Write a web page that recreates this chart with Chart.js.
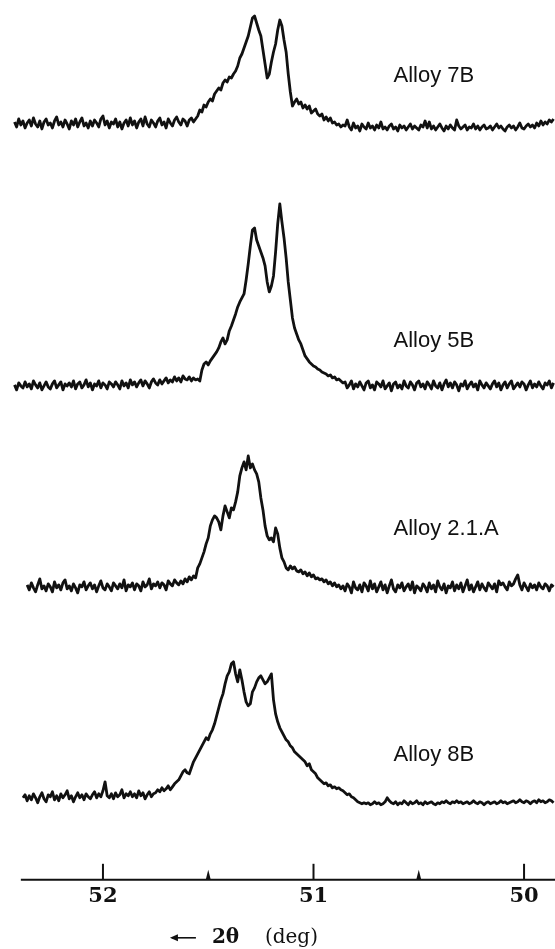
<!doctype html>
<html lang="en">
<head>
<meta charset="utf-8">
<title>Diffraction profiles, alloys 7B, 5B, 2.1.A, 8B</title>
<script src="https://cdn.jsdelivr.net/npm/chart.js"></script>
<style>
  html, body { margin: 0; padding: 0; background: #fff; }
  #wrap { position: relative; width: 555px; height: 949px; }
</style>
</head>
<body>
<div id="wrap"><canvas id="chart"></canvas></div>
<script>
// 2-theta scan positions (deg), shared by every trace
const twoTheta = [
  52.45,52.44,52.43,52.42,52.41,52.40,52.39,52.38,52.37,52.36,
  52.35,52.34,52.33,52.32,52.31,52.30,52.29,52.28,52.27,52.26,
  52.25,52.24,52.23,52.22,52.21,52.20,52.19,52.18,52.17,52.16,
  52.15,52.14,52.13,52.12,52.11,52.10,52.09,52.08,52.07,52.06,
  52.05,52.04,52.03,52.02,52.01,52.00,51.99,51.98,51.97,51.96,
  51.95,51.94,51.93,51.92,51.91,51.90,51.89,51.88,51.87,51.86,
  51.85,51.84,51.83,51.82,51.81,51.80,51.79,51.78,51.77,51.76,
  51.75,51.74,51.73,51.72,51.71,51.70,51.69,51.68,51.67,51.66,
  51.65,51.64,51.63,51.62,51.61,51.60,51.59,51.58,51.57,51.56,
  51.55,51.54,51.53,51.52,51.51,51.50,51.49,51.48,51.47,51.46,
  51.45,51.44,51.43,51.42,51.41,51.40,51.39,51.38,51.37,51.36,
  51.35,51.34,51.33,51.32,51.31,51.30,51.29,51.28,51.27,51.26,
  51.25,51.24,51.23,51.22,51.21,51.20,51.19,51.18,51.17,51.16,
  51.15,51.14,51.13,51.12,51.11,51.10,51.09,51.08,51.07,51.06,
  51.05,51.04,51.03,51.02,51.01,51.00,50.99,50.98,50.97,50.96,
  50.95,50.94,50.93,50.92,50.91,50.90,50.89,50.88,50.87,50.86,
  50.85,50.84,50.83,50.82,50.81,50.80,50.79,50.78,50.77,50.76,
  50.75,50.74,50.73,50.72,50.71,50.70,50.69,50.68,50.67,50.66,
  50.65,50.64,50.63,50.62,50.61,50.60,50.59,50.58,50.57,50.56,
  50.55,50.54,50.53,50.52,50.51,50.50,50.49,50.48,50.47,50.46,
  50.45,50.44,50.43,50.42,50.41,50.40,50.39,50.38,50.37,50.36,
  50.35,50.34,50.33,50.32,50.31,50.30,50.29,50.28,50.27,50.26,
  50.25,50.24,50.23,50.22,50.21,50.20,50.19,50.18,50.17,50.16,
  50.15,50.14,50.13,50.12,50.11,50.10,50.09,50.08,50.07,50.06,
  50.05,50.04,50.03,50.02,50.01,50.00,49.99,49.98,49.97,49.96,
  49.95,49.94,49.93,49.92,49.91,49.90,49.89,49.88,49.87,49.86
];

// intensities above each trace's own background (arb. units)
const alloy7B = [
  null,null,null,2,-3,5,-1,3,-4,1,
  4,-2,6,0,-3,3,-5,2,5,-1,
  1,-4,3,7,-1,2,-3,4,0,-5,
  3,-1,5,-3,2,6,-2,1,-4,3,
  -2,4,1,-3,5,8,-1,3,-4,2,
  0,5,-3,2,-5,1,4,-2,6,-1,
  3,-4,2,5,-2,7,0,-3,4,1,
  -3,3,6,-1,2,-4,5,1,-2,4,
  7,2,-1,5,3,-2,4,6,2,5,
  8,14,12,19,17,22,25,23,30,33,
  36,34,41,44,42,47,46,50,53,58,
  66,70,76,82,88,97,106,108,101,94,
  88,74,60,46,50,62,72,80,94,104,
  98,84,72,50,32,18,22,25,20,22,
  16,19,15,18,11,13,15,10,8,10,
  4,7,3,6,1,2,-1,0,-3,-1,
  -2,4,-3,-6,1,-4,-2,-7,0,-3,
  -5,1,-4,-2,-6,-1,-4,2,-5,-3,
  -6,-2,0,-5,-3,-7,-1,-4,-2,-6,
  -3,0,-5,-2,-4,-6,-1,-3,3,-4,
  2,-5,-2,-6,-3,0,-4,-7,-2,-5,
  -1,-4,-6,4,-2,-5,-3,-1,-6,-3,
  -4,0,-5,-2,-6,-3,-1,-5,-4,-2,
  -6,-3,0,-4,-2,-5,-7,-3,-1,-4,
  -2,-6,-3,1,-4,-5,-2,0,-3,-1,
  -4,1,-2,3,-1,2,0,4,2,5
];
const alloy5B = [
  null,null,null,1,-4,3,0,-2,4,-1,
  2,-3,5,1,-2,3,-4,0,4,-1,
  -3,2,5,-2,1,4,-4,2,0,3,
  -1,5,-3,2,4,-2,1,6,-1,3,
  -4,2,0,5,-2,3,1,-3,4,2,
  -1,4,1,-3,5,0,3,-2,6,1,
  4,-1,3,6,0,5,2,-2,4,7,
  3,1,6,2,5,8,3,6,4,9,
  5,8,4,10,7,6,9,5,8,6,
  7,5,16,22,24,21,25,28,31,34,
  38,44,48,42,46,55,60,66,72,79,
  84,88,92,106,122,140,156,158,146,140,
  134,128,120,104,94,100,110,134,162,182,
  164,148,128,104,86,68,58,52,46,42,
  36,30,27,24,22,20,19,17,16,14,
  13,12,10,11,8,9,6,7,5,3,
  4,-2,1,5,-3,2,-1,4,0,-4,
  3,5,-2,1,-4,4,2,-1,5,-3,
  0,3,-5,2,4,-2,1,-3,5,0,
  -2,4,1,-4,3,5,-1,2,-3,4,
  1,-3,5,0,-2,3,-4,2,6,-1,
  3,-2,4,1,-5,2,0,5,-3,1,
  4,-1,2,-4,5,1,-2,3,0,-3,
  2,5,-1,3,-4,1,4,-2,2,5,
  -3,0,3,-1,4,2,-4,1,5,-2,
  2,-1,4,0,-3,3,1,5,-2,3
];
const alloy21A = [
  null,null,null,null,null,null,null,null,null,3,
  -2,5,0,-4,3,9,-1,2,-3,4,
  1,-4,6,0,3,-2,5,8,-1,2,
  -3,4,0,-5,3,1,6,-2,2,5,
  -1,3,-4,2,7,0,-2,4,1,-3,
  5,2,-1,4,0,8,-3,3,1,5,
  -2,4,2,-3,6,1,3,9,-1,4,
  2,6,0,5,3,-2,7,4,2,8,
  5,3,7,4,9,6,11,8,12,10,
  20,24,30,36,44,50,62,68,72,70,
  66,58,72,82,76,70,80,78,86,96,
  112,120,126,118,132,120,124,118,114,106,
  90,78,62,52,48,50,46,60,54,40,
  30,26,20,18,22,19,21,17,16,18,
  14,16,12,15,11,13,9,10,8,9,
  6,8,4,6,2,5,1,3,-1,2,
  -3,4,1,-5,6,0,-2,3,-4,5,
  2,-3,7,-1,4,-4,1,6,-2,3,
  -5,2,8,-1,-4,3,0,5,-3,1,
  4,-2,6,-5,2,0,-3,4,1,-4,
  5,-1,3,-4,7,1,-2,4,-5,2,
  0,6,-3,3,-1,5,-4,2,8,-2,
  3,-4,1,6,-2,4,0,-3,5,2,
  -1,4,-4,7,3,5,1,-2,6,2,
  4,9,13,3,-2,5,1,-3,4,0,
  3,-2,5,1,-1,4,2,-3,3,1
];
const alloy8B = [
  null,null,null,null,null,null,null,2,5,-1,
  4,0,6,2,-3,3,7,1,-2,5,
  3,8,0,4,-1,6,2,5,9,1,
  4,-2,3,7,2,5,0,6,3,1,
  5,8,2,6,3,9,18,4,2,6,
  1,7,3,5,10,2,6,4,8,3,
  6,2,9,4,7,1,5,8,3,6,
  7,10,8,12,9,11,14,10,13,16,
  18,20,24,28,30,27,26,32,38,42,
  46,50,54,58,62,60,66,70,76,84,
  92,100,106,116,124,128,136,138,126,118,
  130,120,108,98,94,96,108,112,118,122,
  124,120,116,118,122,126,100,86,78,72,
  68,64,60,58,54,52,48,46,44,42,
  40,38,34,36,30,28,26,22,20,18,
  16,17,14,15,12,13,11,12,10,9,
  7,5,6,3,2,0,-2,-3,-4,-3,
  -4,-3,-5,-4,-2,-4,-3,-5,-4,-2,
  2,-1,-3,-4,-2,-5,-3,-4,-1,-3,
  -5,-2,-4,-3,-1,-4,-3,-5,-2,-4,
  -3,-2,-4,-5,-3,-4,-2,-3,-1,-3,
  -4,-2,-3,-1,-3,-2,-4,-3,-2,-4,
  -3,-1,-3,-4,-2,-3,-5,-3,-2,-4,
  -3,-2,-4,-3,-1,-3,-2,-4,-3,-2,
  -1,-3,-2,0,-2,-3,-1,-2,-4,-2,
  -1,-3,0,-2,-1,-3,-2,0,-1,-3
];

const alloyNames = ['Alloy 7B', 'Alloy 5B', 'Alloy 2.1.A', 'Alloy 8B'];
const alloyScans = [alloy7B, alloy5B, alloy21A, alloy8B];
// each trace is lifted by its own offset so the four scans stack
const offsets = [756, 494, 292, 80];

const tickValues = [52, 51, 50];
const minorTickValues = [51.5, 50.5];

// where the name of each trace sits (2-theta, stacked intensity)
const nameAt = 50.62;
const nameLevels = [804, 539, 351, 125];

const datasets = alloyScans.map((scan, k) => ({
  label: alloyNames[k],
  data: twoTheta.map((t, i) => ({ x: t, y: scan[i] == null ? null : scan[i] + offsets[k] })),
  borderColor: '#111',
  borderWidth: 2.8,
  borderJoinStyle: 'round',
  pointRadius: 0,
  tension: 0,
  spanGaps: false
}));

// axis line with upward ticks, trace names and the axis caption
const decorations = {
  id: 'decorations',
  afterDraw(chart) {
    const { ctx, chartArea, scales: { x, y } } = chart;
    const base = chartArea.bottom;
    ctx.save();
    ctx.strokeStyle = '#111';
    ctx.fillStyle = '#111';
    ctx.lineWidth = 2;
    ctx.beginPath();
    ctx.moveTo(x.getPixelForValue(52.39), base);
    ctx.lineTo(chartArea.right, base);
    ctx.stroke();

    tickValues.forEach(v => {
      const px = x.getPixelForValue(v);
      ctx.beginPath();
      ctx.moveTo(px, base);
      ctx.lineTo(px, base - 16);
      ctx.stroke();
    });
    minorTickValues.forEach(v => {
      const px = x.getPixelForValue(v);
      ctx.beginPath();
      ctx.moveTo(px - 2.5, base);
      ctx.lineTo(px, base - 10);
      ctx.lineTo(px + 2.5, base);
      ctx.closePath();
      ctx.fill();
    });

    ctx.font = '22px "Liberation Sans", Arial, sans-serif';
    ctx.textAlign = 'left';
    ctx.textBaseline = 'middle';
    alloyNames.forEach((name, k) => {
      ctx.fillText(name, x.getPixelForValue(nameAt), y.getPixelForValue(nameLevels[k]));
    });

    // caption: long arrow, then 2θ (deg)
    const cx = x.getPixelForValue(51.682);
    const cy = base + 58;
    ctx.lineWidth = 1.6;
    ctx.beginPath();
    ctx.moveTo(cx + 2, cy);
    ctx.lineTo(cx + 26, cy);
    ctx.stroke();
    ctx.beginPath();
    ctx.moveTo(cx, cy);
    ctx.lineTo(cx + 8, cy - 3.5);
    ctx.lineTo(cx + 8, cy + 3.5);
    ctx.closePath();
    ctx.fill();
    ctx.font = 'bold 20px "DejaVu Serif", serif';
    ctx.fillText('2\u03b8', cx + 42, cy);
    ctx.font = '20px "DejaVu Serif", serif';
    ctx.fillText('(deg)', cx + 95, cy);
    ctx.restore();
  }
};

new Chart(document.getElementById('chart'), {
  type: 'line',
  data: { datasets },
  options: {
    responsive: true,
    maintainAspectRatio: false,
    animation: false,
    layout: { padding: { top: 0, left: 0, right: 0, bottom: 36 } },
    plugins: { legend: { display: false }, tooltip: { enabled: false } },
    scales: {
      x: {
        type: 'linear',
        reverse: true,
        min: 49.853,
        max: 52.489,
        afterBuildTicks: s => { s.ticks = tickValues.map(v => ({ value: v })); },
        grid: { display: false, drawTicks: false },
        border: { display: false },
        ticks: {
          padding: 4,
          color: '#111',
          font: { family: '"DejaVu Serif", serif', size: 21, weight: 'bold' },
          callback: v => String(v)
        }
      },
      y: { display: false, min: 0, max: 880 }
    }
  },
  plugins: [decorations]
});
</script>
</body>
</html>
